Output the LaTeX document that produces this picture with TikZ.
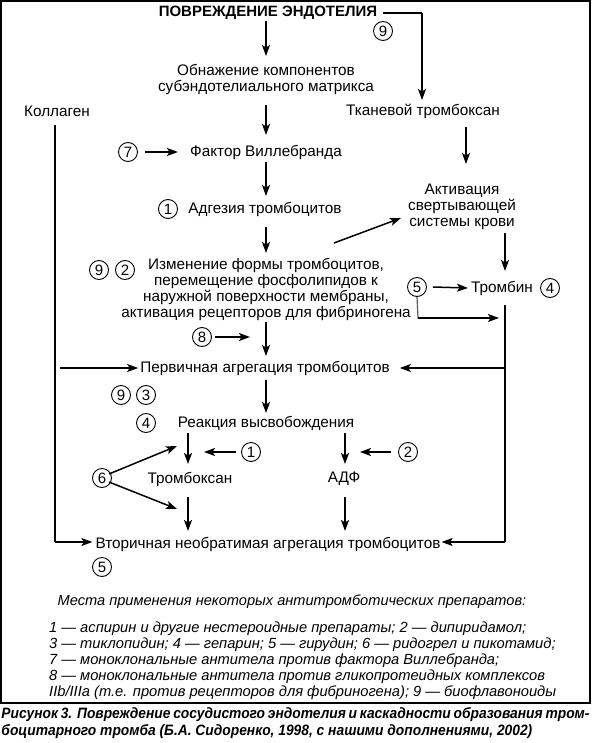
\documentclass[tikz,border=0pt]{standalone}
\usepackage{fontspec}
\setmainfont{Liberation Sans}
\newfontfamily\capfont{Liberation Sans}[FakeStretch=0.92]
\usetikzlibrary{arrows.meta}
\begin{document}
\begin{tikzpicture}[x=1pt,y=-1pt,
  lbl/.style={inner sep=0pt, align=center, font=\fontsize{15.3}{16}\selectfont},
  num/.style={circle, draw, line width=0.9pt, minimum size=19pt, inner sep=0pt, font=\fontsize{15}{15}\selectfont},
  arr/.style={line width=1.5pt, -{Stealth[length=11pt,width=8pt,inset=2.5pt]}},
  ln/.style={line width=1.5pt},
  grayln/.style={line width=1.2pt, black!65},
]
\useasboundingbox (0,0) rectangle (591,743);
\draw[line width=1.3pt] (1,1) rectangle (590,703);

% nodes
\node[lbl, font=\fontsize{15}{16}\selectfont\bfseries] (title) at (268,13) {ПОВРЕЖДЕНИЕ ЭНДОТЕЛИЯ};
\node[num] (c9t) at (383,31) {9};
\node[lbl] (obn) at (266,79) {Обнажение компонентов\\субэндотелиального матрикса};
\node[lbl] (kol) at (57,111) {Коллаген};
\node[lbl] (tkan) at (423,111) {Тканевой тромбоксан};
\node[lbl] (fak) at (266,152) {Фактор Виллебранда};
\node[num] (c7) at (128,152) {7};
\node[lbl] (adg) at (265,209) {Адгезия тромбоцитов};
\node[num] (c1a) at (168,209) {1};
\node[lbl] (akt) at (462,207) {Активация\\свертывающей\\системы крови};
\node[lbl] (izm) at (266,289) {Изменение формы тромбоцитов,\\перемещение фосфолипидов к\\наружной поверхности мембраны,\\активация рецепторов для фибриногена};
\node[num] (c9a) at (99,270) {9};
\node[num] (c2a) at (125,270) {2};
\node[num] (c5a) at (417,287) {5};
\node[lbl] (trom) at (502,288) {Тромбин};
\node[num] (c4a) at (550,288) {4};
\node[num] (c8) at (202,337) {8};
\node[lbl] (perv) at (265,368) {Первичная агрегация тромбоцитов};
\node[num] (c9b) at (121,395) {9};
\node[num] (c3) at (146,395) {3};
\node[num] (c4b) at (146,423) {4};
\node[lbl] (reak) at (266,423) {Реакция высвобождения};
\node[num] (c1b) at (251,452) {1};
\node[num] (c2b) at (408,452) {2};
\node[lbl] (tbx) at (190,479) {Тромбоксан};
\node[lbl] (adf) at (344,479) {АДФ};
\node[num] (c6) at (102,478) {6};
\node[lbl] (vtor) at (268,544) {Вторичная необратимая агрегация тромбоцитов};
\node[num] (c5b) at (102,567) {5};
\node[lbl, font=\fontsize{14.6}{16}\selectfont\itshape] (mesta) at (292,602) {Места применения некоторых антитромботических препаратов:};
\node[lbl, align=left, anchor=west, font=\fontsize{14.7}{16}\selectfont\itshape] (legend) at (49,661) {1 — аспирин и другие нестероидные препараты; 2 — дипиридамол;\\3 — тиклопидин; 4 — гепарин; 5 — гирудин; 6 — ридогрел и пикотамид;\\7 — моноклональные антитела против фактора Виллебранда;\\8 — моноклональные антитела против гликопротеидных комплексов\\IIb/IIIa (т.е. против рецепторов для фибриногена); 9 — биофлавоноиды};
\node[inner sep=0pt, text width=588pt, align=justify, font=\capfont\fontsize{15}{16.5}\selectfont\bfseries\itshape] (cap) at (295.5,723) {Рисунок 3. Повреждение сосудистого эндотелия и каскадности образования тром-\linebreak боцитарного тромба (Б.А. Сидоренко, 1998, с нашими дополнениями, 2002)};

% coordinates for free ends
\coordinate (tr) at (422,13);
\coordinate (k1) at (55,125);
\coordinate (k2) at (55,542);
\coordinate (t1) at (505,305);
\coordinate (t2) at (505,542);
\coordinate (t3) at (505,368);
\coordinate (lf) at (60,368);
\coordinate (m5) at (418,318);

% connectors
\draw[ln] ([xshift=6pt]title.east) -- (tr);
\draw[arr] (tr) -- (tr |- 0,100);
\draw[arr] (266,21) -- (266,56);
\draw[arr] (266,105) -- (266,135);
\draw[arr] (466,127) -- (466,164);
\draw[arr] (c7) ++(17,0) -- ([xshift=-12pt]fak.west);
\draw[arr] (266,162) -- (266,196);
\draw[arr] (266,227) -- (266,253);
\draw[arr] (334,243) -- (401,218);
\draw[arr] (505,233) -- (505,271);
\draw[arr] (c5a.east) ++(6,0) -- ([xshift=-3pt]trom.west);
\draw[grayln] (c5a.south) -- (m5) -- (490,318);
\draw[arr] (m5) -- (499,318);
\draw[arr] (c8.east) ++(3,0) -- (250,337);
\draw[arr] (266,322) -- (266,356);
\draw[arr] (lf) -- ([xshift=-2pt]perv.west);
\draw[ln] (t1) -- (t2);
\draw[arr] (t3) -- ([xshift=10pt]perv.east);
\draw[arr] (266,380) -- (266,413);
\draw[arr] (188,433) -- (188,464);
\draw[arr] (345,433) -- (345,464);
\draw[arr] (c1b.west) ++(-5,0) -- (204,452);
\draw[arr] (c2b.west) ++(-7,0) -- (360,452);
\draw[arr] (c6.north east) ++(0,3) -- (177,446);
\draw[arr] (c6.south east) ++(0,-3) -- (177,509);
\draw[arr] (188,497) -- (188,531);
\draw[arr] (345,497) -- (345,531);
\draw[ln] (k1) -- (k2);
\draw[arr] (k2) -- ([xshift=-3pt]vtor.west |- k2);
\draw[arr] (t2) -- ([xshift=1pt]vtor.east |- t2);
\end{tikzpicture}
\end{document}
